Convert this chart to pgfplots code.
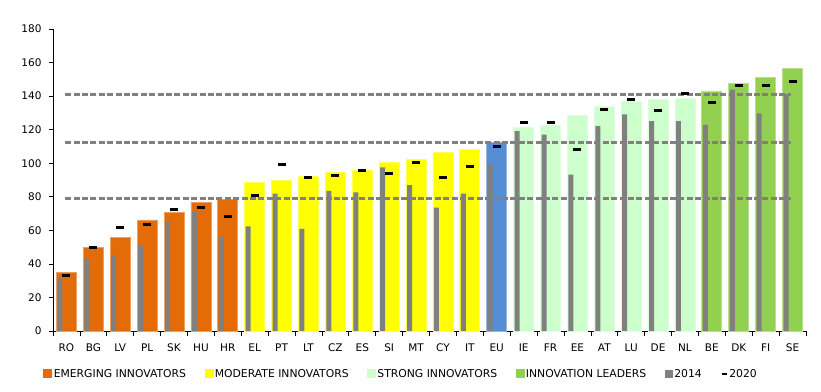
\documentclass[border=0pt]{standalone}
\usepackage{fontspec}
\setmainfont{DejaVu Sans}
\usepackage{pgfplots}
\pgfplotsset{compat=1.18}
\definecolor{emerg}{HTML}{E36C09}
\definecolor{moder}{HTML}{FFFF00}
\definecolor{strongc}{HTML}{CCFFCC}
\definecolor{leader}{HTML}{92D050}
\definecolor{eublue}{HTML}{558ED5}
\definecolor{gr}{HTML}{808080}
\begin{document}
\begin{tikzpicture}
\path[use as bounding box] (-53pt,-60pt) rectangle (768pt,331pt);
\begin{axis}[
  at={(0pt,0pt)}, anchor=south west,
  scale only axis, width=753pt, height=302pt,
  xmin=-0.5, xmax=27.5, ymin=0, ymax=180,
  axis lines*=left,
  axis line style={black, line width=0.7pt},
  /pgf/number format/assume math mode=true,
  ticklabel style={font=\fontsize{10.5}{12}\selectfont},
  ytick={0,20,...,180},
  tick align=outside,
  major tick length=4pt,
  minor tick length=5pt,
  ytick style={black, line width=0.7pt},
  xtick={0,...,27},
  xticklabels={RO,BG,LV,PL,SK,HU,HR,EL,PT,LT,CZ,ES,SI,MT,CY,IT,EU,IE,FR,EE,AT,LU,DE,NL,BE,DK,FI,SE},
  major x tick style={draw=none},
  minor xtick={-0.5,0.5,...,27.5},
  minor x tick style={black, line width=0.7pt},
  xticklabel style={yshift=-5pt},
  yticklabel style={xshift=-4pt},
  legend style={at={(0.462,-0.142)}, anchor=center, draw=none, fill=none,
    font=\fontsize{10.8}{12}\selectfont, legend columns=-1,
    /tikz/every even column/.append style={column sep=17pt},
    nodes={inner sep=1.5pt}},
  legend cell align=left,
  clip=false,
]
\addplot[ybar, bar width=20pt, bar shift=0pt, fill=emerg, draw=emerg!65!white, line width=0.8pt,
  legend image code/.code={\fill[emerg] (0pt,-4pt) rectangle (8pt,4pt);}]
  coordinates {(0,34.7)(1,49.8)(2,55.7)(3,66.2)(4,70.6)(5,76.7)(6,78.3)};
\addlegendentry{EMERGING INNOVATORS}
\addplot[ybar, bar width=20pt, bar shift=0pt, fill=moder, draw=moder!65!white, line width=0.8pt,
  legend image code/.code={\fill[moder] (0pt,-4pt) rectangle (8pt,4pt);}]
  coordinates {(7,88.6)(8,90.0)(9,92.2)(10,94.6)(11,96.0)(12,100.5)(13,102.1)(14,106.5)(15,108.0)};
\addlegendentry{MODERATE INNOVATORS}
\addplot[ybar, bar width=20pt, bar shift=0pt, fill=strongc, draw=strongc!65!white, line width=0.8pt,
  legend image code/.code={\fill[strongc] (0pt,-4pt) rectangle (8pt,4pt);}]
  coordinates {(17,121.3)(18,122.3)(19,128.3)(20,133.6)(21,136.6)(22,137.8)(23,138.6)};
\addlegendentry{STRONG INNOVATORS}
\addplot[ybar, bar width=20pt, bar shift=0pt, fill=leader, draw=leader!65!white, line width=0.8pt,
  legend image code/.code={\fill[leader] (0pt,-4pt) rectangle (8pt,4pt);}]
  coordinates {(24,143.1)(25,147.5)(26,151.3)(27,156.6)};
\addlegendentry{INNOVATION LEADERS}
\addplot[ybar, bar width=20pt, bar shift=0pt, fill=eublue, draw=eublue!65!white, line width=0.8pt, forget plot]
  coordinates {(16,112.4)};
\addplot[ybar, bar width=5pt, bar shift=-6.5pt, fill=gr, draw=none,
  legend image code/.code={\fill[gr] (0pt,-4pt) rectangle (8pt,4pt);}]
  coordinates {(0,31.1)(1,43.0)(2,45.2)(3,51.2)(4,65.4)(5,70.8)(6,56.3)(7,62.3)(8,81.9)(9,60.9)(10,83.5)(11,82.7)(12,97.5)(13,87.0)(14,73.6)(15,81.9)(16,99.7)(17,119.2)(18,117.0)(19,93.2)(20,122.1)(21,129.1)(22,125.1)(23,125.1)(24,122.9)(25,143.9)(26,129.7)(27,141.2)};
\addlegendentry{2014}
\addplot[gr, line width=2.7pt, dash pattern=on 6pt off 2.4pt, forget plot] coordinates {(-0.05,78.8)(26.95,78.8)};
\addplot[gr, line width=2.7pt, dash pattern=on 6pt off 2.4pt, forget plot] coordinates {(-0.05,112.5)(26.95,112.5)};
\addplot[gr, line width=2.7pt, dash pattern=on 6pt off 2.4pt, forget plot] coordinates {(-0.05,141.1)(26.95,141.1)};
\addplot[only marks, mark=-, mark size=4pt, mark options={black, line width=3pt},
  legend image code/.code={\draw[black, line width=2.5pt] (1pt,0pt) -- (6pt,0pt);}]
  coordinates {(0,33.3)(1,49.8)(2,61.7)(3,63.2)(4,72.2)(5,73.6)(6,68.2)(7,80.9)(8,99.1)(9,91.4)(10,92.4)(11,95.4)(12,94.0)(13,100.3)(14,91.4)(15,98.3)(16,110.2)(17,124.5)(18,124.5)(19,108.0)(20,131.8)(21,137.8)(22,131.2)(23,141.8)(24,136.4)(25,146.1)(26,146.1)(27,148.7)};
\addlegendentry{2020}
\end{axis}
\end{tikzpicture}
\end{document}
